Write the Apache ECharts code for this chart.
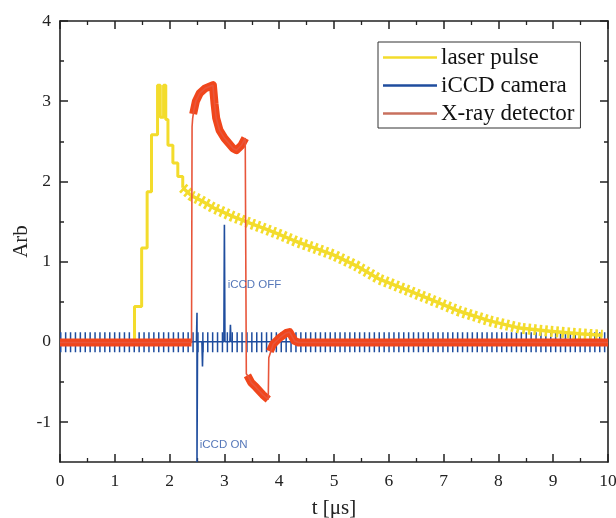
<!DOCTYPE html>
<html><head><meta charset="utf-8">
<script src="https://cdn.jsdelivr.net/npm/echarts@6/dist/echarts.min.js"></script>
<style>html,body{margin:0;padding:0;background:#fff}#c{width:616px;height:518px}</style>
</head><body><div id="c"></div>
<script>
// ---- data ----
const xTicks = [0,1,2,3,4,5,6,7,8,9,10];
const yTickLabels = [-1,0,1,2,3,4];
const yMinorTicks = [-0.5,0.5,1.5,2.5,3.5];

const laserRiseT = [0, 1.36, 1.36, 1.49, 1.49, 1.59, 1.59, 1.67, 1.67, 1.78, 1.78, 1.83, 1.83, 1.89, 1.89, 1.93, 1.93, 1.97, 1.97, 2.06, 2.06, 2.15, 2.15, 2.24, 2.24];
const laserRiseV = [0, 0, 0.44, 0.44, 1.17, 1.17, 1.87, 1.87, 2.58, 2.58, 3.2, 3.2, 2.8, 2.8, 3.2, 3.2, 2.77, 2.77, 2.45, 2.45, 2.23, 2.23, 2.06, 2.06, 1.92];
const laserTailT = [2.24, 2.4, 2.55, 2.8, 3.16, 3.5, 3.77, 4.0, 4.31, 4.6, 5.0, 5.4, 5.83, 6.2, 6.75, 7.29, 7.84, 8.39, 8.94, 9.48, 9.9];
const laserTailV = [1.92, 1.82, 1.77, 1.67, 1.56, 1.47, 1.40, 1.34, 1.25, 1.18, 1.08, 0.95, 0.78, 0.68, 0.53, 0.38, 0.26, 0.17, 0.13, 0.10, 0.08];

const iccdNoiseT = [0, 10];
const iccdNoiseV = [-0.005, -0.005];
const iccdT = [0, 2.49, 2.5, 2.5, 2.51, 2.59, 2.6, 2.61, 2.99, 3.0, 3.01, 3.10, 3.11, 3.12, 10];
const iccdV = [0, 0, 0.36, -1.5, 0, 0, -0.31, 0, 0, 1.46, 0, 0, 0.21, 0, 0];

const xrayT = [0, 2.40, 2.41, 2.42, 2.44, 2.48, 2.55, 2.65, 2.79, 2.82, 2.85, 2.91, 3.00, 3.16, 3.22, 3.31, 3.38, 3.40, 3.43, 3.49, 3.58, 3.70, 3.80, 3.81, 3.89, 4.01, 4.13, 4.19, 4.28, 4.35, 10];
const xrayV = [-0.01, -0.01, 2.68, 2.78, 2.88, 3.0, 3.1, 3.16, 3.2, 2.97, 2.79, 2.64, 2.54, 2.41, 2.39, 2.45, 2.54, -0.40, -0.43, -0.51, -0.57, -0.66, -0.72, -0.2, -0.03, 0.05, 0.11, 0.12, 0.01, -0.01, -0.01];
// thick (noisy) portions of the X-ray trace; null = break
const xrayBandT = [0, 2.40, null, 2.43, 2.48, 2.55, 2.65, 2.79, 2.82, 2.85, 2.91, 3.00, 3.16, 3.22, 3.31, 3.38, null, 3.42, 3.49, 3.58, 3.70, 3.80, null, 3.83, 3.89, 4.01, 4.13, 4.19, 4.28, 4.35, 10];
const xrayBandV = [-0.01, -0.01, null, 2.84, 3.0, 3.1, 3.16, 3.2, 2.97, 2.79, 2.64, 2.54, 2.41, 2.39, 2.45, 2.54, null, -0.42, -0.51, -0.57, -0.66, -0.72, null, -0.12, -0.03, 0.05, 0.11, 0.12, 0.01, -0.01, -0.01];

const annoText = ['iCCD OFF', 'iCCD ON'];
const annoT = [3.06, 2.55];
const annoV = [0.71, -1.28];

// ---- build ----
const pairs = (t, v) => t.map((x, i) => (x === null ? [null, null] : [x, v[i]]));
const YEL = '#f3dc2c', BLU = '#1f4d9e', RED = '#f0461c';
const serif = 'Liberation Serif';
const axisCol = '#222';

function xAx(pos, showLabel) {
  return {
    type: 'value', position: pos, min: 0, max: 10, interval: 1,
    axisLine: {show: true, onZero: false, lineStyle: {color: axisCol, width: 1.6}},
    axisTick: {show: true, inside: true, length: 8, lineStyle: {color: axisCol, width: 1.5}},
    minorTick: {show: true, splitNumber: 2, length: 4, lineStyle: {color: axisCol, width: 1.3}},
    splitLine: {show: false}, minorSplitLine: {show: false},
    axisLabel: {show: showLabel, fontFamily: serif, fontSize: 17.5, color: axisCol, margin: 10},
    name: showLabel ? 't [\u03bcs]' : '', nameLocation: 'middle', nameGap: 36, nameMoveOverlap: false,
    nameTextStyle: {fontFamily: serif, fontSize: 21, color: axisCol}
  };
}
function yAx(pos, major, showLabel, showLine) {
  return {
    type: 'value', position: pos, min: -1.5, max: 4, interval: 0.5,
    axisLine: {show: showLine, onZero: false, lineStyle: {color: axisCol, width: 1.6}},
    axisTick: {show: true, inside: true, length: major ? 8 : 4,
      customValues: major ? yTickLabels : yMinorTicks, lineStyle: {color: axisCol, width: 1.5}},
    splitLine: {show: false},
    axisLabel: {show: showLabel, customValues: yTickLabels, fontFamily: serif, fontSize: 17.5, color: axisCol, margin: 9},
    name: showLabel ? 'Arb' : '', nameLocation: 'middle', nameGap: 28, nameMoveOverlap: false,
    nameTextStyle: {fontFamily: serif, fontSize: 21, color: axisCol}
  };
}

const chart = echarts.init(document.getElementById('c'), null, {renderer: 'canvas'});
chart.setOption({
  animation: false,
  backgroundColor: '#fff',
  grid: {left: 60, right: 8, top: 21, bottom: 56, containLabel: false, outerBoundsMode: 'none'},
  xAxis: [xAx('bottom', true), xAx('top', false)],
  yAxis: [yAx('left', true, true, true), yAx('left', false, false, false),
          yAx('right', true, false, true), yAx('right', false, false, false)],
  legend: {
    orient: 'vertical', left: 378, top: 42, icon: 'rect', itemWidth: 54, itemHeight: 2.5, itemGap: 5,
    padding: [4, 6, 3, 5], borderColor: '#333', borderWidth: 1, backgroundColor: '#fff',
    textStyle: {fontFamily: serif, fontSize: 23, color: '#111', padding: [0, 0, 0, -1]},
    data: [
      {name: 'laser pulse', itemStyle: {color: YEL}},
      {name: 'iCCD camera', itemStyle: {color: BLU}},
      {name: 'X-ray detector', itemStyle: {color: '#c8705e'}}
    ]
  },
  series: [
    {name: 'iCCD noise', type: 'line', data: pairs(iccdNoiseT, iccdNoiseV), symbol: 'none', z: 1,
     lineStyle: {color: BLU, width: 20, type: [1.5, 3.4], cap: 'butt'}, silent: true},
    {name: 'laser pulse', type: 'line', data: pairs(laserRiseT, laserRiseV), symbol: 'none', z: 2,
     itemStyle: {color: YEL}, lineStyle: {color: YEL, width: 3}},
    {name: 'laser pulse', type: 'line', data: pairs(laserTailT, laserTailV), symbol: 'none', z: 2,
     itemStyle: {color: YEL}, lineStyle: {color: YEL, width: 3.5}},
    {name: 'laser tail band', type: 'line', data: pairs(laserTailT, laserTailV), symbol: 'none', z: 2,
     lineStyle: {color: YEL, width: 11, type: [2.6, 3], cap: 'butt'}},
    {name: 'iCCD camera', type: 'line', data: pairs(iccdT, iccdV), symbol: 'none', z: 3,
     itemStyle: {color: BLU}, lineStyle: {color: BLU, width: 1.6}},
    {name: 'X-ray band', type: 'line', data: pairs(xrayBandT, xrayBandV), symbol: 'none', z: 4,
     connectNulls: false, lineStyle: {color: RED, width: 8, cap: 'butt', join: 'round'}},
    {name: 'X-ray detector', type: 'line', data: pairs(xrayT, xrayV), symbol: 'none', z: 5,
     itemStyle: {color: '#e8553a'}, lineStyle: {color: '#e8553a', width: 1.6}},
    {name: 'annotations', type: 'scatter', symbolSize: 0, z: 6,
     data: annoText.map((s, i) => ({name: s, value: [annoT[i], annoV[i]]})),
     label: {show: true, position: 'right', distance: 0, formatter: p => p.name,
       fontFamily: 'Liberation Sans', fontSize: 11.5, color: '#2a55a8'}}
  ]
});
</script></body></html>
